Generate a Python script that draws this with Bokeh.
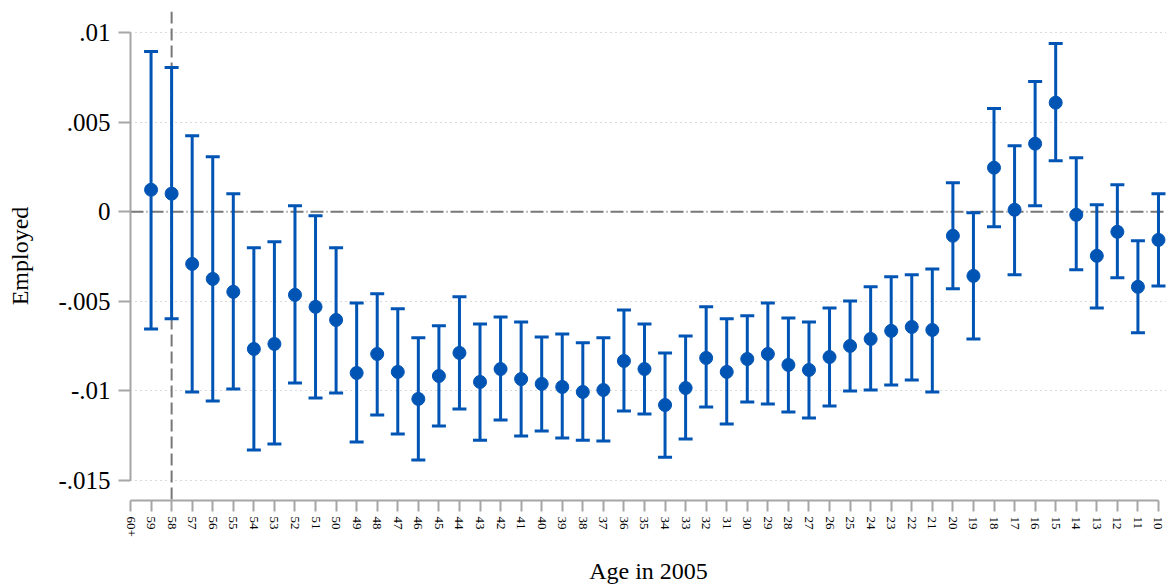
from bokeh.plotting import figure
from bokeh.models import ColumnDataSource, Whisker, TeeHead, Span, FixedTicker, Range1d
from bokeh.embed import file_html
from bokeh.resources import INLINE

# Age groups along the x axis (oldest on the left)
tick_labels = ["60+", "59", "58", "57", "56", "55", "54", "53", "52", "51", "50",
               "49", "48", "47", "46", "45", "44", "43", "42", "41", "40",
               "39", "38", "37", "36", "35", "34", "33", "32", "31", "30",
               "29", "28", "27", "26", "25", "24", "23", "22", "21", "20",
               "19", "18", "17", "16", "15", "14", "13", "12", "11", "10"]

# Estimated effects on employment with 95% confidence bounds
ages = ["59", "58", "57", "56", "55", "54", "53", "52", "51", "50",
        "49", "48", "47", "46", "45", "44", "43", "42", "41", "40",
        "39", "38", "37", "36", "35", "34", "33", "32", "31", "30",
        "29", "28", "27", "26", "25", "24", "23", "22", "21", "20",
        "19", "18", "17", "16", "15", "14", "13", "12", "11", "10"]
coef = [0.00123, 0.00101, -0.00291, -0.00375, -0.00447, -0.00766, -0.00738, -0.00464, -0.00531, -0.00604,
        -0.00900, -0.00794, -0.00894, -0.01045, -0.00917, -0.00788, -0.00950, -0.00878, -0.00934, -0.00961,
        -0.00978, -0.01006, -0.00995, -0.00833, -0.00878, -0.01079, -0.00984, -0.00816, -0.00894, -0.00822,
        -0.00794, -0.00855, -0.00883, -0.00811, -0.00749, -0.00710, -0.00665, -0.00643, -0.00660, -0.00134,
        -0.00358, 0.00246, 0.00011, 0.00380, 0.00609, -0.00017, -0.00246, -0.00112, -0.00419, -0.00157]
ci_hi = [0.00894, 0.00805, 0.00425, 0.00307, 0.00101, -0.00201, -0.00168, 0.00034, -0.00022, -0.00201,
         -0.00509, -0.00458, -0.00542, -0.00704, -0.00637, -0.00475, -0.00626, -0.00587, -0.00615, -0.00699,
         -0.00682, -0.00732, -0.00704, -0.00548, -0.00626, -0.00788, -0.00693, -0.00531, -0.00598, -0.00581,
         -0.00509, -0.00593, -0.00615, -0.00537, -0.00498, -0.00419, -0.00363, -0.00352, -0.00319, 0.00162,
         -0.00006, 0.00576, 0.00369, 0.00727, 0.00939, 0.00302, 0.00039, 0.00151, -0.00162, 0.00101]
ci_lo = [-0.00654, -0.00598, -0.01006, -0.01057, -0.00989, -0.01330, -0.01297, -0.00956, -0.01040, -0.01012,
         -0.01286, -0.01135, -0.01241, -0.01386, -0.01196, -0.01101, -0.01275, -0.01163, -0.01252, -0.01224,
         -0.01263, -0.01275, -0.01280, -0.01112, -0.01129, -0.01370, -0.01269, -0.01090, -0.01185, -0.01062,
         -0.01073, -0.01118, -0.01152, -0.01084, -0.01001, -0.00995, -0.00967, -0.00939, -0.01006, -0.00430,
         -0.00710, -0.00084, -0.00352, 0.00034, 0.00285, -0.00324, -0.00537, -0.00369, -0.00676, -0.00414]

y_ticks = [-0.015, -0.01, -0.005, 0.0, 0.005, 0.01]
y_tick_text = ["-.015", "-.01", "-.005", "0", ".005", ".01"]

BLUE = "#0054b4"
GREY = "#777777"
AXIS_GREY = "#a6a6a6"
FONT = "Liberation Serif"

pos = [tick_labels.index(a) for a in ages]
src = ColumnDataSource(dict(x=pos, coef=coef, hi=ci_hi, lo=ci_lo))

p = figure(width=1166, height=588, output_backend="svg", toolbar_location=None,
           x_range=Range1d(0, 50.39), y_range=Range1d(-0.01612, 0.01118),
           min_border_left=130, min_border_right=0, min_border_top=11, min_border_bottom=88)
p.outline_line_color = None
p.background_fill_color = "white"
p.border_fill_color = "white"

# dotted horizontal grid (zero gets its own reference line)
p.xgrid.visible = False
p.ygrid.ticker = FixedTicker(ticks=[t for t in y_ticks if t != 0])
p.ygrid.grid_line_color = "#b4b4b4"
p.ygrid.grid_line_dash = "1 4"
p.ygrid.grid_line_width = 1

# reference lines, kept beneath the estimates
p.add_layout(Span(location=0, dimension="width", line_color=GREY, level="underlay",
                  line_width=2, line_dash="13 3 1 3"))
p.add_layout(Span(location=tick_labels.index("58"), dimension="height", line_color=GREY,
                  level="underlay", line_width=2, line_dash="12 5"))

# confidence intervals and point estimates
p.add_layout(Whisker(source=src, base="x", upper="hi", lower="lo", dimension="height",
                     line_color=BLUE, line_width=3,
                     upper_head=TeeHead(size=14, line_color=BLUE, line_width=3),
                     lower_head=TeeHead(size=14, line_color=BLUE, line_width=3)))
p.scatter("x", "coef", source=src, size=13, color=BLUE)

# axes
ya = p.yaxis[0]
ya.ticker = FixedTicker(ticks=y_ticks)
ya.major_label_overrides = {t: s for t, s in zip(y_ticks, y_tick_text)}
ya.bounds = (-0.015, 0.01)
ya.minor_tick_line_color = None
ya.major_tick_out = 12
ya.major_tick_in = 0
ya.major_label_standoff = 8
ya.axis_line_color = AXIS_GREY
ya.axis_line_width = 2
ya.major_tick_line_color = AXIS_GREY
ya.major_tick_line_width = 2
ya.major_label_text_font = FONT
ya.major_label_text_font_size = "25px"
ya.major_label_text_color = "black"
ya.axis_label = "Employed"
ya.axis_label_text_font = FONT
ya.axis_label_text_font_size = "24px"
ya.axis_label_text_font_style = "normal"
ya.axis_label_text_color = "black"
ya.axis_label_standoff = 22

xa = p.xaxis[0]
xa.ticker = FixedTicker(ticks=list(range(len(tick_labels))))
xa.major_label_overrides = {i: s for i, s in enumerate(tick_labels)}
xa.bounds = (0, len(tick_labels) - 1)
xa.minor_tick_line_color = None
xa.major_tick_out = 11
xa.major_tick_in = 0
xa.major_label_standoff = 5
xa.major_label_orientation = "vertical"
xa.axis_line_color = AXIS_GREY
xa.axis_line_width = 2
xa.major_tick_line_color = AXIS_GREY
xa.major_tick_line_width = 2
xa.major_label_text_font = FONT
xa.major_label_text_font_size = "13px"
xa.major_label_text_color = "black"
xa.axis_label = "Age in 2005"
xa.axis_label_text_font = FONT
xa.axis_label_text_font_size = "24px"
xa.axis_label_text_font_style = "normal"
xa.axis_label_text_color = "black"
xa.axis_label_standoff = 18

open("out.html", "w").write(file_html(p, INLINE))
